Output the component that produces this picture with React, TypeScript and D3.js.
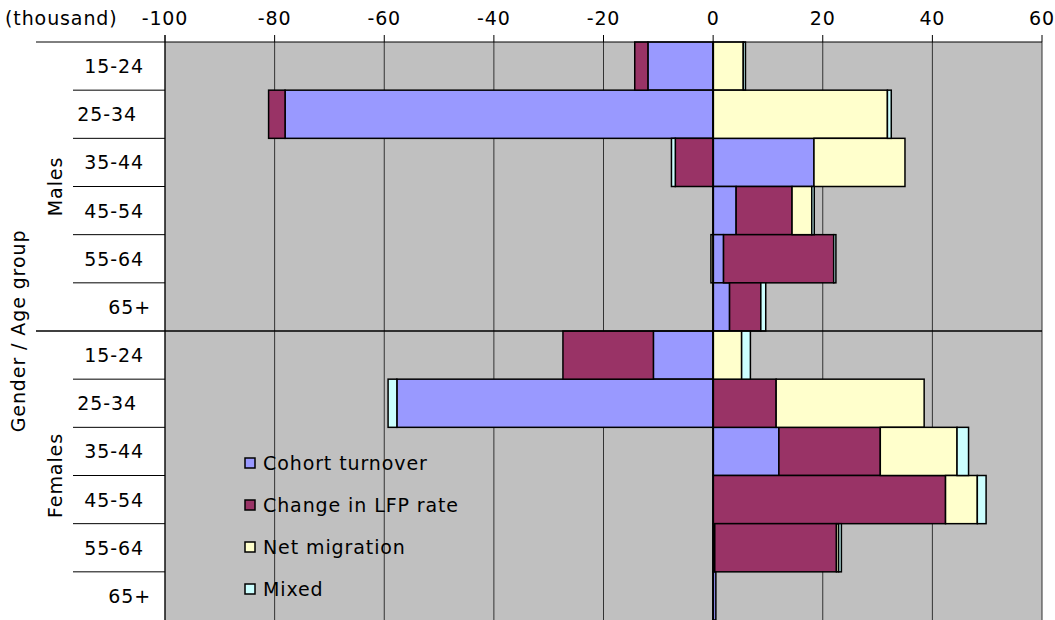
import React from "react";
import * as d3 from "d3";

const groups = ["Males", "Females"];
const ageGroups = ["15-24", "25-34", "35-44", "45-54", "55-64", "65+"];
const seriesNames = ["Cohort turnover", "Change in LFP rate", "Net migration", "Mixed"];
const seriesColors = ["#9999FF", "#993366", "#FFFFCC", "#CCFFFF"];

// order: Males 15-24 .. 65+, Females 15-24 .. 65+
const cohortTurnover = [-11.9, -78.1, 18.4, 4.2, 1.9, 3.0, -10.9, -57.7, 12.0, 0.0, 0.3, 0.5];
const changeInLFP = [-2.4, -3.0, -6.9, 10.2, 20.1, 5.7, -16.5, 11.5, 18.5, 42.4, 22.2, 0.0];
const netMigration = [5.5, 31.8, 16.6, 3.6, -0.4, 0.0, 5.2, 27.0, 14.0, 5.8, 0.4, 0.0];
const mixed = [0.4, 0.7, -0.7, 0.45, 0.4, 0.9, 1.6, -1.6, 2.1, 1.6, 0.5, 0.0];

const xTicks = [-100, -80, -60, -40, -20, 0, 20, 40, 60];

const W = 1055;
const H = 620;
const FONT = "'DejaVu Sans', Verdana, sans-serif";
const FS = 19;
const LS = 0.9;

export default function App() {
  const left = 165, right = 1042, top = 42, bottom = 620;
  const x = d3.scaleLinear().domain([-100, 60]).range([left, right]);
  const rows = groups.flatMap((g) => ageGroups.map((a) => `${g}|${a}`));
  const y = d3.scaleBand().domain(rows).range([top, bottom]).padding(0);

  const table = rows.map((r, i) => ({
    key: r,
    s0: cohortTurnover[i],
    s1: changeInLFP[i],
    s2: netMigration[i],
    s3: mixed[i],
  }));
  const stack = d3
    .stack<any>()
    .keys(["s0", "s1", "s2", "s3"])
    .offset(d3.stackOffsetDiverging);
  const stacked = stack(table);

  const LABEL_DX: Record<string, number> = { "25-34": -7, "65+": 7 };
  const midY = y(rows[6])!;

  return (
    <div style={{ position: "absolute", left: 0, top: 0 }}>
      <svg width={W} height={H} style={{ display: "block" }} fontFamily={FONT} letterSpacing={LS}>
        <rect x={0} y={0} width={W} height={H} fill="#ffffff" />
        <rect x={left} y={top} width={right - left} height={bottom - top} fill="#C0C0C0" />
        {/* gridlines */}
        {xTicks.map((t) => (
          <line key={"g" + t} x1={x(t)} x2={x(t)} y1={top} y2={bottom} stroke="#333" strokeWidth={1} />
        ))}
        {/* bars */}
        {stacked.map((s, si) => (
          <g key={"s" + si}>
            {s.map((d, i) => {
              const x0 = x(Math.min(d[0], d[1]));
              const x1 = x(Math.max(d[0], d[1]));
              if (x1 - x0 < 0.01) return null;
              return (
                <rect
                  key={i}
                  x={x0}
                  y={y(rows[i])!}
                  width={x1 - x0}
                  height={y.bandwidth()}
                  fill={seriesColors[si]}
                  stroke="#000"
                  strokeWidth={1.5}
                />
              );
            })}
          </g>
        ))}
        {/* zero line */}
        <line x1={x(0)} x2={x(0)} y1={top} y2={bottom} stroke="#000" strokeWidth={2} />
        {/* middle separator */}
        <line x1={36} x2={right} y1={midY} y2={midY} stroke="#000" strokeWidth={1.5} />
        {/* left axis line */}
        <line x1={left} x2={left} y1={top - 7} y2={bottom} stroke="#000" strokeWidth={1} />
        {/* top axis */}
        <line x1={36} x2={right} y1={top} y2={top} stroke="#000" strokeWidth={1} />
        {xTicks.map((t) => (
          <g key={"t" + t}>
            <line x1={x(t)} x2={x(t)} y1={top - 7} y2={top} stroke="#000" strokeWidth={1} />
            <text x={x(t)} y={18} textAnchor="middle" dominantBaseline="central" fontSize={FS} fill="#000">
              {t}
            </text>
          </g>
        ))}
        <text x={5} y={18} dominantBaseline="central" fontSize={FS} fill="#000">
          (thousand)
        </text>
        {/* category separators and labels */}
        {rows.map((r, i) => {
          const yy = y(r)!;
          const age = r.split("|")[1];
          return (
            <g key={"c" + i}>
              {i > 0 && i !== 6 && (
                <line x1={73} x2={left} y1={yy} y2={yy} stroke="#000" strokeWidth={1} />
              )}
              <text
                x={144 + (LABEL_DX[age] || 0)}
                y={yy + y.bandwidth() / 2}
                textAnchor="end"
                dominantBaseline="central"
                fontSize={FS}
                fill="#000"
              >
                {age}
              </text>
            </g>
          );
        })}
        {groups.map((g, gi) => {
          const y0 = y(rows[gi * 6])!;
          const y1 = y(rows[gi * 6 + 5])! + y.bandwidth();
          const cy = (y0 + y1) / 2;
          return (
            <text
              key={g}
              transform={`translate(55,${cy}) rotate(-90)`}
              textAnchor="middle"
              dominantBaseline="central"
              fontSize={FS}
              fill="#000"
            >
              {g}
            </text>
          );
        })}
        <text
          transform={`translate(18,${midY}) rotate(-90)`}
          textAnchor="middle"
          dominantBaseline="central"
          fontSize={FS}
          fill="#000"
        >
          Gender / Age group
        </text>
        {/* legend */}
        {seriesNames.map((n, i) => {
          const cy = 463 + i * 42;
          return (
            <g key={n}>
              <rect x={245} y={cy - 5} width={10} height={10} fill={seriesColors[i]} stroke="#000" strokeWidth={1.5} />
              <text x={263} y={cy} dominantBaseline="central" fontSize={FS} fill="#000">
                {n}
              </text>
            </g>
          );
        })}
      </svg>
    </div>
  );
}
